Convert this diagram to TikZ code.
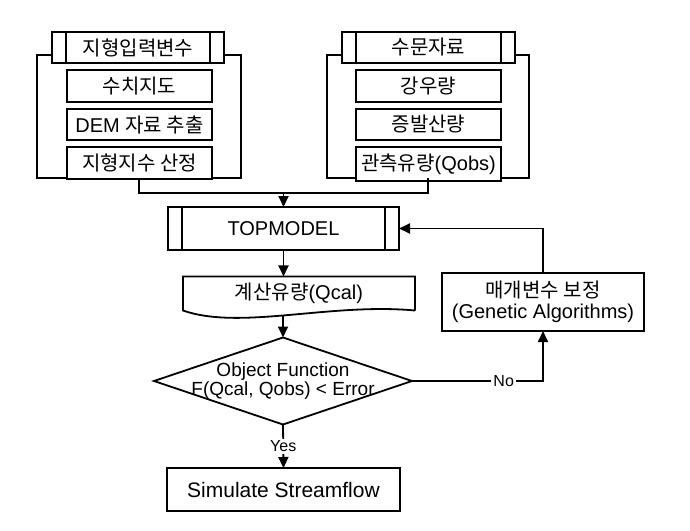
\documentclass[tikz,border=0pt]{standalone}
\usepackage{fontspec}
\setmainfont{Liberation Sans}
\newfontfamily\kr{Noto Sans CJK KR}
\usetikzlibrary{positioning,arrows.meta,calc}

\tikzset{
    >={Triangle[length=5.5pt,width=5pt]},
    box/.style={draw, fill=white, outer sep=0pt, minimum width=#1, minimum height=14pt},
    subproc/.style={box=#1, path picture={
        \draw ([xshift=7pt]path picture bounding box.north west) -- ([xshift=7pt]path picture bounding box.south west)
              ([xshift=-7pt]path picture bounding box.north east) -- ([xshift=-7pt]path picture bounding box.south east);}},
    panel/.style={draw, outer sep=0pt, minimum width=#1, minimum height=61.5pt},
    tag/.style={fill=white, inner sep=1pt, font=\fontsize{8}{9}\selectfont},
}

\begin{document}
\begin{tikzpicture}[x=0.5pt, y=-0.5pt, line width=0.9pt] % calibration loop of TOPMODEL
    \useasboundingbox (0,0) rectangle (690,530);

    \node[panel=102pt] (gtopo) at (139,116.5) {};
    \node[panel=101pt] (ghydro) at (428,116.5) {};
    \node[subproc=86pt, minimum height=14.5pt] (htopo) at (138,47.5) {\kr 지형입력변수};
    \node[subproc=86.5pt, minimum height=14.5pt] (hhydro) at (428.5,47.5) {\kr 수문자료};

    \node[box=72.5pt] (dem) at (139.5,86) {\kr 수치지도};
    \node[box=72.5pt, below=3.5pt of dem] (demx) {DEM {\kr 자료 추출}};
    \node[box=72.5pt, below=3.5pt of demx] (tidx) {\kr 지형지수 산정};
    \node[box=72.5pt] (rain) at (428.5,86) {\kr 강우량};
    \node[box=72.5pt, below=3.5pt of rain] (evap) {\kr 증발산량};
    \node[box=72.5pt, inner xsep=0.5pt, below=3.5pt of evap] (qobs) {{\kr 관측유량}(Qobs)};

    \node[subproc=115.5pt, minimum height=21.5pt] (topm) at (283.5,228.5) {TOPMODEL};
    \node[minimum width=116pt, minimum height=14.5pt, outer sep=0pt] (qcal) at (299,293.5) {{\kr 계산유량}(Qcal)};
    \node[minimum width=129pt, minimum height=43.5pt, outer sep=0pt, align=center,
          font=\fontsize{9.5}{9.5}\selectfont] (obj) at (283,381) {Object Function\\F(Qcal, Qobs) < Error};
    \node[box=101pt, minimum height=29pt, align=center, font=\fontsize{10}{10.5}\selectfont]
          (calib) at (543,302) {{\kr 매개변수 보정}\\(Genetic Algorithms)};
    \node[box=116.5pt, minimum height=21.5pt, font=\fontsize{10.5}{12}\selectfont] (sim) at (283.5,489.5) {Simulate Streamflow};

    \draw (qcal.south east) -- (qcal.north east) -- (qcal.north west) -- (qcal.south west)
        .. controls +(57,20) and +(-85,-8) .. (qcal.south east);
    \draw (obj.north) -- (obj.east) -- (obj.south) -- (obj.west) -- cycle;

    \coordinate (merge) at ($(topm.north)+(0,-14)$);
    \draw (gtopo.south) |- (merge) -| (ghydro.south);
    \draw[->] (merge) -- (topm.north);
    \draw[->] (topm.south) -- (topm.south |- qcal.north);
    \draw[->] ($(obj.north |- qcal.south)+(0,4.5)$) -- (obj.north);
    \draw[->] (obj.east) -| node[tag, pos=0.35] {No} (calib.south);
    \draw[->] (calib.north) |- (topm.east);
    \draw[->] (obj.south) -- node[tag] {Yes} (sim.north);
\end{tikzpicture}
\end{document}
